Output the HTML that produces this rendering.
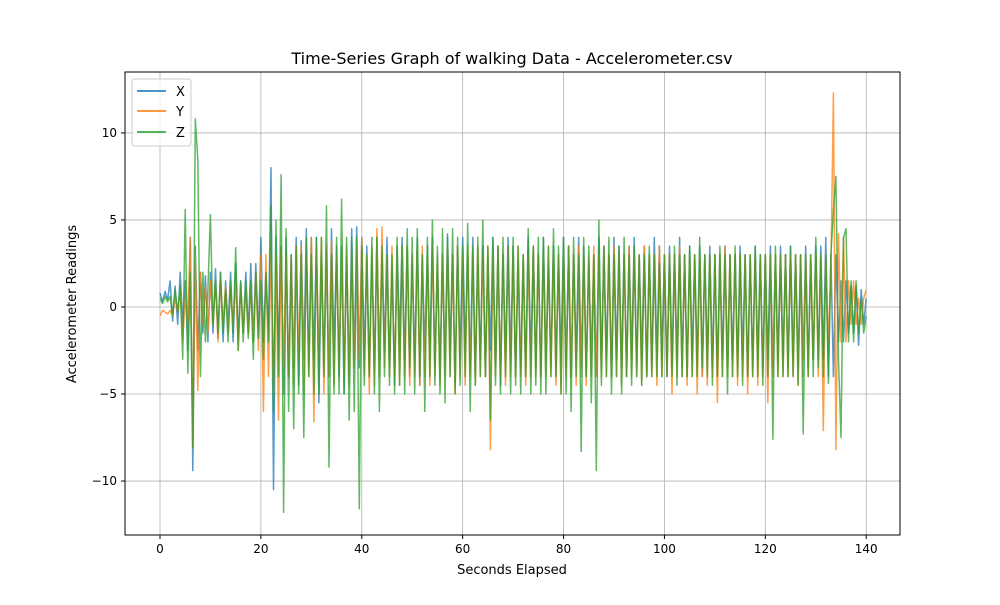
<!DOCTYPE html>
<html><head><meta charset="utf-8"><style>
body{margin:0;background:#fff;font-family:"Liberation Sans","DejaVu Sans",sans-serif}
svg text{font-family:"DejaVu Sans","Liberation Sans",sans-serif}
</style></head><body>
<svg id="chart" width="1000" height="600" xmlns="http://www.w3.org/2000/svg">
<rect width="1000" height="600" fill="#fff"/>
<g id="grid"></g>
<g id="series"></g>
<rect x="125" y="72" width="775" height="463" fill="none" stroke="#000" stroke-width="1"/>
<g id="ticks"></g>
<text x="512" y="64" font-size="16" text-anchor="middle">Time-Series Graph of walking Data - Accelerometer.csv</text>
<text x="512" y="574" font-size="13" text-anchor="middle">Seconds Elapsed</text>
<text transform="translate(76,304) rotate(-90)" font-size="13" text-anchor="middle">Accelerometer Readings</text>
<g>
<rect x="132" y="79" width="59" height="67" rx="3" fill="#fff" fill-opacity="0.8" stroke="#ccc"/>
<g><line x1="137" y1="91" x2="166" y2="91" stroke="#1f77b4" stroke-opacity="0.8" stroke-width="2"/><text x="176" y="96" font-size="13">X</text></g>
<g><line x1="137" y1="111" x2="166" y2="111" stroke="#ff7f0e" stroke-opacity="0.8" stroke-width="2"/><text x="176" y="116" font-size="13">Y</text></g>
<g><line x1="137" y1="132" x2="166" y2="132" stroke="#2ca02c" stroke-opacity="0.8" stroke-width="2"/><text x="176" y="137" font-size="13">Z</text></g>
</g>
</svg>
<script>
const xTicks=[0,20,40,60,80,100,120,140];
const yTicks=[-10,-5,0,5,10];
const seriesNames=["X","Y","Z"];
const seriesColors=["#1f77b4","#ff7f0e","#2ca02c"];
const tStart=0, tStep=0.5;
const xVals=[0.8,0.3,0.9,0.4,1.5,-0.8,1.2,-1,
2,-1,1.5,-2.5,4,-9.4,3.5,-2.5,
2,-1.5,1.8,-2,2,-1.5,2.2,-1.8,
2,-2,1.5,-1.2,2,-2,2.5,-1.8,
1.5,-1.5,2,-1.5,2.5,-2,2.5,-1.8,
4,-2,2,-1.5,8,-10.5,4,-3,
3.5,-5,4,-4,3,-3.5,4,-4.5,
3.8,-3,4.5,-3.5,4,-3,4,-5.5,
3,-3.5,3,-4,4.5,-2.5,3.5,-4,
3.5,-5,3,-4,4.5,-3,4.6,-3.5,
4,-3,3.5,-4,3,-3.5,4,-3,
3,-2.5,4,-3.5,2.5,-4.5,3.5,-2,4,-3,
3.5,-4,2.5,-3,4,-4.5,3,-2.5,3.5,-3,
4,-3.5,2.5,-4,3,-3,4.2,-2.5,3,-4.5,
3.5,-3,4,-2.5,3,-3.5,4,-4,2.5,-3,
3.5,-4,3,-2.5,4,-3.5,3.5,-4.5,3,-3,
4,-3,3.5,-4,2.5,-3.5,3,-4,4,-3,
3.5,-3.5,3,-4,4,-3,2.5,-3.5,3.5,-4,
3,-3,4,-3.5,3.5,-4,3,-3,4,-3.5,
3.5,-4,2.5,-3,3,-4,4,-3.5,3.5,-3,
3,-4,4,-3,3.5,-3.5,3,-4,3.5,-3,
4,-3.5,3,-3,3.5,-4,3,-3.5,4,-3,
3.5,-3,3,-4,3.5,-3.5,3,-3,4,-3.5,
3,-4,3.5,-3,3,-3.5,3.5,-4,3,-3,
3.5,-3.5,3,-4,3,-3,3.5,-3.5,3,-3,
3,-3.5,3.5,-3,3,-4,3,-3.5,3.5,-3,
3,-3.5,3,-3,3.5,-3.5,3,-3,3.5,-3,
3,-3.5,3.5,-3,3,-3.5,3,-3,3.5,-3.5,
3,-3,
3.5,-3,3.5,-3,4,-4,3,-4,3,-2,1.5,-2,1.5,-1.5,1.2,-1.5,1.2,-2.2,1,-1,0.5];
const yVals=[-0.5,-0.2,-0.3,-0.4,-0.2,-0.5,0.5,-0.3,
1,-2,0.5,-1,4,-8,3,-4.8,
2,-1,1.2,-1.5,1.5,-1,1.5,-2,
1.5,-1,1.2,-1.5,1,-1,1.5,-2.5,
1.2,-1.5,1,-1.5,1.2,-2,2,-2.5,
3,-6,3,-4,3.5,-5,3,-6.5,
3.5,-3.5,3,-4,3,-4.5,3.5,-3,
3.5,-5,3,-4,4,-6.6,3.5,-3,
4,-5,3.5,-4,3.8,-4.5,3,-3.5,
3,-4,3.5,-4.5,3,-3.5,3.5,-3,
4,-4,3,-5,3.5,-4.5,4.5,-4,
4.6,-3.5,3,-4,3.5,-4,3,-4.5,3.5,-4,
3.5,-4.5,3,-4,3.5,-4.5,3.5,-4,3,-4.5,
3.5,-4,3,-4.5,3,-4,3.5,-4,3,-5,
3.5,-4,3,-4.5,3.5,-4,3,-4.5,3.5,-4,
3,-4,3.5,-8.2,3,-4,3.5,-4,3,-4.5,
3.5,-4,3,-4,3.5,-4,3,-4.5,3,-4,
3.5,-4,3,-4,3,-4,3.5,-4,3,-4.5,
3,-5,3,-4,3.5,-4,3,-4.5,3.5,-4,
3,-4.5,3,-4,3.5,-4,3,-4,3.5,-4,
3,-4,3.5,-4,3,-4.5,3,-4,3.5,-4,
3,-4,3,-4.5,3.5,-4,3,-4,3,-4.5,
3.5,-4,3,-4,3,-5,3,-4,3.5,-4,
3,-4.5,3,-4,3,-5,3,-4,3,-4.5,
3,-4,3,-5.5,3,-4,3.5,-4,3,-4,
3,-4.5,3,-4,3,-5,3,-4,3,-4.5,
3,-4,3,-5.5,3,-4,3,-4,3,-4,
3,-4,3,-4,3,-4.5,3,-4,3,-4,
3,-3,
3,-4,3,-7.1,3,-2,2,12.3,-8.2,4.2,-2,4,-2,1.5,-1,1.5,-1,0.5,-1,0.5,1];
const zVals=[0.5,0.2,0.6,0.3,0.6,-0.5,1,-0.3,
1.2,-3,5.6,-3.8,2,-8.1,10.8,8.5,
-4,2,-2,1,5.3,-1,1.5,-1.5,
2,-1.5,1,-2,1.5,-1.5,3.4,-2.5,
1.5,-2,1.5,-1.8,1.5,-3,2,-1.8,
1.5,-3,2,-2,5.8,-6,5,-4,
7.6,-11.8,4.5,-6,3,-7,3.5,-5,
3,-7.5,4,-4,3,-5,4,-5,
4,-4,5.8,-9.2,3,-5,4,-5,
6.2,-5,4,-6.5,4,-6,4,-11.6,
3.5,-4.5,3,-4,4,-5,4,-6,
3.5,-4,3,-4.5,3,-5,4,-4.5,3.5,-5,
4.5,-3.5,4,-5,4.5,-4,3,-6,4,-4,
5,-4.5,3.5,-5,4.5,-5.5,4,-4,4.5,-5,
4,-4.5,3.5,-4,4.8,-6,3.5,-4.5,4,-4,
5,-4,3.5,-6.5,4,-4.5,3.5,-5,4,-4,
3.5,-5,4,-4.5,3.5,-5,3,-4,4.5,-5,
3.5,-4.5,4,-5,4,-5,3.5,-4,4.5,-4,
3.5,-5,4,-5,3.5,-6,4,-4,3,-8.3,
4,-4,3.5,-5.5,3,-9.4,5,-4.5,3.5,-4,
4,-5,3,-4,3.5,-5,4,-4,3,-4.5,
3.5,-4,3,-4.5,3,-4,3.5,-4,3,-4,
2.5,-4,3,-4,3,-4,3.5,-4.5,3,-4,
3,-4,3.5,-4,3,-4,4,-3.5,3,-4,
3,-4.5,3,-4,3.5,-4,3,-5,3,-4,
3.5,-4,3,-4.5,3,-4,3,-4,3.5,-4,
3,-4.5,3,-4,3,-7.6,3.5,-4,3,-4,
3,-4,3.5,-4,3,-4.5,3,-7.3,3,-4,
3,-4,
4,-3.5,3,-4,3,-4.4,3,5.5,7.5,-3,-7.5,4,4.5,-2,1.5,-2,1.5,-1.5,0.5,-1.5,-0.5];
const NS="http://www.w3.org/2000/svg";
const L=125,R=900,T=72,B=535;
const xMin=-6.94,xMax=146.7,yMin=-13.1,yMax=13.5;
function sx(v){return L+(v-xMin)/(xMax-xMin)*(R-L);}
function sy(v){return B-(v-yMin)/(yMax-yMin)*(B-T);}
function mk(tag,attrs,parent){const e=document.createElementNS(NS,tag);for(const k in attrs)e.setAttribute(k,attrs[k]);parent.appendChild(e);return e;}
const grid=document.getElementById('grid'),ticks=document.getElementById('ticks'),ser=document.getElementById('series');
xTicks.forEach(t=>{const x=sx(t);
 const g=mk('line',{x1:x,x2:x,y1:T,y2:B,stroke:'#b0b0b0','stroke-width':0.8},grid);
 
 
 const tk=mk('line',{x1:x,x2:x,y1:B,y2:B+4,stroke:'#000'},ticks);
 
 
 const tx=mk('text',{x:x,y:B+18,'font-size':12,'text-anchor':'middle'},ticks);tx.textContent=String(t);
 
 
});
yTicks.forEach(t=>{const y=sy(t);
 const g=mk('line',{x1:L,x2:R,y1:y,y2:y,stroke:'#b0b0b0','stroke-width':0.8},grid);
 
 
 const tk=mk('line',{x1:L-4,x2:L,y1:y,y2:y,stroke:'#000'},ticks);
 
 
 const tx=mk('text',{x:L-8,y:y+4,'font-size':12,'text-anchor':'end'},ticks);tx.textContent=String(t).replace('-','\u2212');
 
 
});
[xVals,yVals,zVals].forEach((vals,si)=>{
 const d=vals.map((v,i)=>(i?'L':'M')+sx(tStart+i*tStep).toFixed(1)+' '+sy(v).toFixed(1)).join(' ');
 const p=mk('path',{d:d,fill:'none',stroke:seriesColors[si],'stroke-opacity':0.75,'stroke-width':1.5,'stroke-linejoin':'round'},ser);
 
 
});
</script>
</body></html>
